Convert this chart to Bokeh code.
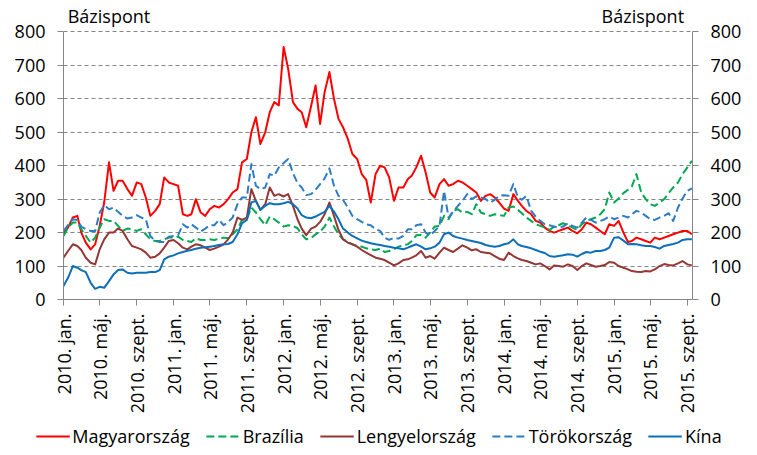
import datetime as dt
from bokeh.plotting import figure
from bokeh.layouts import column
from bokeh.models import (Range1d, LinearAxis, FixedTicker, Legend, LegendItem,
                          Label, CustomJSTickFormatter)
from bokeh.embed import file_html
from bokeh.resources import INLINE

# ---- categories: semi-monthly observation dates (1st and 16th of each month) ----
dates = []
for y in range(2010, 2016):
    for mo in range(1, 13):
        if y == 2015 and mo > 9:
            break
        dates.append(dt.datetime(y, mo, 1))
        dates.append(dt.datetime(y, mo, 16))

# ---- series values (basis points) ----
magyar = [
    200, 215, 245, 250, 200, 170, 150, 165, 220, 290, 410, 325, 355, 355, 330, 310, 350, 345, 305, 250, 265, 285, 365, 350,
    345, 340, 255, 250, 255, 300, 260, 250, 270, 280, 275, 285, 300, 320, 330, 410, 420, 500, 545, 465, 500, 560, 590, 580,
    755, 690, 590, 570, 560, 515, 578, 640, 525, 620, 680, 600, 540, 515, 480, 435, 420, 375, 358, 290, 375, 400, 395, 365,
    295, 335, 335, 360, 370, 395, 430, 380, 320, 305, 345, 360, 340, 345, 355, 350, 340, 330, 320, 295, 310, 315, 305, 290,
    272, 265, 315, 295, 280, 265, 255, 235, 230, 215, 205, 200, 205, 210, 215, 205, 198, 210, 230, 225, 215, 205, 195, 225,
    220, 235, 200, 172, 175, 185, 180, 175, 170, 185, 180, 185, 190, 195, 200, 205, 205, 195,
]
brazil = [
    190, 215, 230, 230, 210, 190, 170, 185, 215, 240, 235, 235, 220, 205, 212, 210, 205, 210, 195, 180, 175, 175, 180, 185,
    185, 188, 178, 175, 172, 183, 178, 178, 180, 178, 182, 185, 183, 195, 210, 238, 240, 275, 260, 240, 222, 248, 240, 230,
    218, 222, 220, 213, 195, 180, 183, 195, 203, 218, 245, 218, 195, 180, 172, 165, 160, 158, 153, 150, 148, 152, 142, 145,
    150, 158, 162, 165, 175, 192, 193, 185, 200, 218, 220, 250, 240, 265, 270, 260, 262, 255, 285, 260, 255, 250, 255, 252,
    250, 275, 278, 268, 258, 245, 235, 225, 220, 215, 208, 218, 222, 228, 222, 215, 208, 225, 235, 240, 245, 255, 270, 320,
    290, 302, 318, 328, 338, 375, 320, 300, 285, 280, 290, 300, 318, 335, 350, 375, 395, 415,
]
lengyel = [
    125, 145, 165, 160, 148, 125, 110, 105, 150, 180, 200, 200, 212, 205, 180, 160, 155, 150, 140, 125, 128, 138, 155, 175,
    178, 168, 155, 150, 158, 165, 162, 155, 148, 152, 158, 165, 180, 200, 245, 238, 245, 330, 295, 268, 285, 335, 310, 315,
    308, 315, 280, 240, 212, 192, 212, 218, 232, 255, 290, 250, 208, 180, 170, 165, 158, 148, 140, 133, 125, 122, 118, 110,
    102, 108, 118, 120, 125, 132, 145, 125, 130, 122, 140, 155, 148, 142, 152, 162, 155, 147, 150, 142, 140, 138, 130, 122,
    118, 140, 130, 123, 118, 115, 110, 105, 108, 100, 90, 102, 100, 98, 105, 100, 88, 100, 108, 103, 98, 100, 103, 112,
    110, 100, 95, 90, 85, 83, 82, 85, 84, 90, 100, 106, 103, 102, 108, 115, 105, 102,
]
torok = [
    205, 222, 240, 238, 218, 210, 205, 205, 260, 282, 270, 275, 262, 250, 242, 245, 252, 245, 240, 190, 175, 172, 172, 188,
    190, 192, 225, 215, 225, 215, 203, 212, 222, 222, 238, 222, 232, 245, 285, 305, 305, 405, 340, 330, 335, 375, 370, 395,
    408, 420, 378, 348, 335, 312, 315, 328, 345, 362, 392, 340, 310, 298, 275, 250, 240, 232, 225, 222, 210, 205, 185, 178,
    185, 182, 190, 210, 210, 222, 225, 200, 192, 205, 220, 325, 245, 262, 280, 295, 315, 300, 308, 305, 300, 290, 298, 310,
    312, 310, 345, 305, 298, 310, 265, 248, 235, 225, 222, 218, 215, 218, 228, 220, 215, 230, 245, 238, 230, 235, 240, 248,
    240, 245, 250, 245, 255, 265, 260, 250, 240, 238, 245, 250, 258, 235, 275, 302, 325, 332,
]
kina = [
    40, 65, 100, 95, 88, 82, 50, 32, 38, 35, 55, 75, 88, 90, 80, 78, 80, 80, 80, 82, 82, 88, 120, 128,
    132, 138, 142, 146, 148, 152, 155, 156, 158, 160, 163, 165, 166, 172, 195, 228, 238, 290, 295, 268, 280, 288, 285, 285,
    288, 292, 285, 272, 252, 245, 243, 248, 255, 262, 280, 263, 240, 212, 200, 190, 183, 176, 172, 168, 165, 163, 160, 158,
    155, 153, 150, 155, 160, 165, 158, 150, 153, 158, 170, 195, 200, 190, 185, 182, 178, 175, 172, 169, 163, 160, 158, 160,
    165, 168, 180, 165, 160, 157, 153, 148, 143, 139, 130, 128, 130, 132, 135, 134, 128, 136, 142, 140, 145, 145, 148, 155,
    185, 186, 176, 165, 166, 165, 162, 160, 160, 157, 152, 160, 163, 166, 170, 178, 180, 180,
]

series_names = ["Magyarország", "Brazília", "Lengyelország", "Törökország", "Kína"]

# ---- tick labels ----
tick_labels = [
    "2010. jan.", "2010. máj.", "2010. szept.", "2011. jan.", "2011. máj.", "2011. szept.",
    "2012. jan.", "2012. máj.", "2012. szept.", "2013. jan.", "2013. máj.", "2013. szept.",
    "2014. jan.", "2014. máj.", "2014. szept.", "2015. jan.", "2015. máj.", "2015. szept.",
]
tick_dates = [dt.datetime(2010 + k // 3, 1 + 4 * (k % 3), 1) for k in range(18)]
y_ticks = [0, 100, 200, 300, 400, 500, 600, 700, 800]
y_label = "Bázispont"

EPOCH = dt.datetime(1970, 1, 1)
def ms(d):
    return (d - EPOCH).total_seconds() * 1000.0

tick_ms = [ms(d) for d in tick_dates]

FONT = "Open Sans"
GRAY = "#868686"
series = [magyar, brazil, lengyel, torok, kina]
styles = [
    ("#FF0000", None),
    ("#00A850", "8 4"),
    ("#953735", None),
    ("#2E7CC4", "8 4"),
    ("#0B6FBA", None),
]
x_start, x_end = dates[0], dt.datetime(2015, 9, 18)

# ---------------- main chart ----------------
# frame extends above 800 so that the unit labels can sit inside it
p = figure(width=757, height=417, x_axis_type="datetime",
           output_backend="svg", toolbar_location=None,
           x_range=Range1d(x_start, x_end),
           y_range=Range1d(0, 879),
           min_border_left=63, min_border_right=65,
           min_border_top=5, min_border_bottom=118)
p.outline_line_color = None
p.background_fill_color = "white"
p.border_fill_color = "white"
p.frame_align = False

for vals, (col, dash) in zip(series, styles):
    kw = dict(line_color=col, line_width=2, line_join="round")
    if dash:
        kw["line_dash"] = dash
    p.line(dates, vals, **kw)

xa = p.xaxis[0]
xa.ticker = FixedTicker(ticks=tick_ms)
xa.formatter = CustomJSTickFormatter(args=dict(tv=tick_ms, lab=tick_labels), code="""
    for (let i = 0; i < tv.length; i++) { if (Math.abs(tv[i] - tick) < 1) return lab[i]; }
    return '';
""")
xa.major_label_orientation = 3.14159265 / 2
xa.axis_line_color = GRAY
xa.major_tick_line_color = GRAY
xa.major_tick_out = 6
xa.major_tick_in = 0
xa.minor_tick_line_color = None
xa.major_label_text_font = FONT
xa.major_label_text_font_size = "18px"
xa.major_label_text_color = "black"
xa.major_label_standoff = 8

ra = LinearAxis()
p.add_layout(ra, "right")
for ax in [p.yaxis[0], ra]:
    ax.ticker = FixedTicker(ticks=y_ticks)
    ax.bounds = (0, 800)
    ax.axis_line_color = GRAY
    ax.major_tick_line_color = GRAY
    ax.major_tick_out = 6
    ax.major_tick_in = 0
    ax.minor_tick_line_color = None
    ax.major_label_text_font = FONT
    ax.major_label_text_font_size = "18px"
    ax.major_label_text_color = "black"
    ax.major_label_standoff = 12

p.xgrid.visible = False
p.ygrid.ticker = FixedTicker(ticks=y_ticks)
p.ygrid.grid_line_color = GRAY
p.ygrid.grid_line_dash = "4 3"
p.ygrid.grid_line_width = 1

p.add_layout(Label(x=ms(dt.datetime(2010, 1, 15)), y=847, text=y_label,
                   text_font=FONT, text_font_size="18px", text_baseline="middle",
                   text_align="left", text_color="black"))
p.add_layout(Label(x=ms(dt.datetime(2015, 8, 21)), y=847, text=y_label,
                   text_font=FONT, text_font_size="18px", text_baseline="middle",
                   text_align="right", text_color="black"))

# ---------------- legend strip ----------------
# same series drawn in a strip whose y-range lies below the data, so only the legend shows
lg = figure(width=757, height=38, x_axis_type="datetime",
            output_backend="svg", toolbar_location=None,
            x_range=Range1d(x_start, x_end), y_range=Range1d(-2000, -1000),
            x_axis_location=None, y_axis_location=None, min_border=0)
lg.outline_line_color = None
lg.grid.visible = False
lg.frame_align = False
items = []
for name, vals, (col, dash) in zip(series_names, series, styles):
    kw = dict(line_color=col, line_width=2)
    if dash:
        kw["line_dash"] = dash
    r = lg.line(dates, vals, **kw)
    items.append(LegendItem(label=name, renderers=[r]))
legend = Legend(items=items, orientation="horizontal", location="center",
                label_text_font=FONT, label_text_font_size="18px",
                label_text_color="black",
                glyph_width=34, glyph_height=20, label_standoff=3, spacing=16,
                padding=0, margin=0, border_line_color=None,
                background_fill_alpha=0)
lg.add_layout(legend)

layout = column(p, lg, spacing=0)
open("out.html", "w").write(file_html(layout, INLINE))
